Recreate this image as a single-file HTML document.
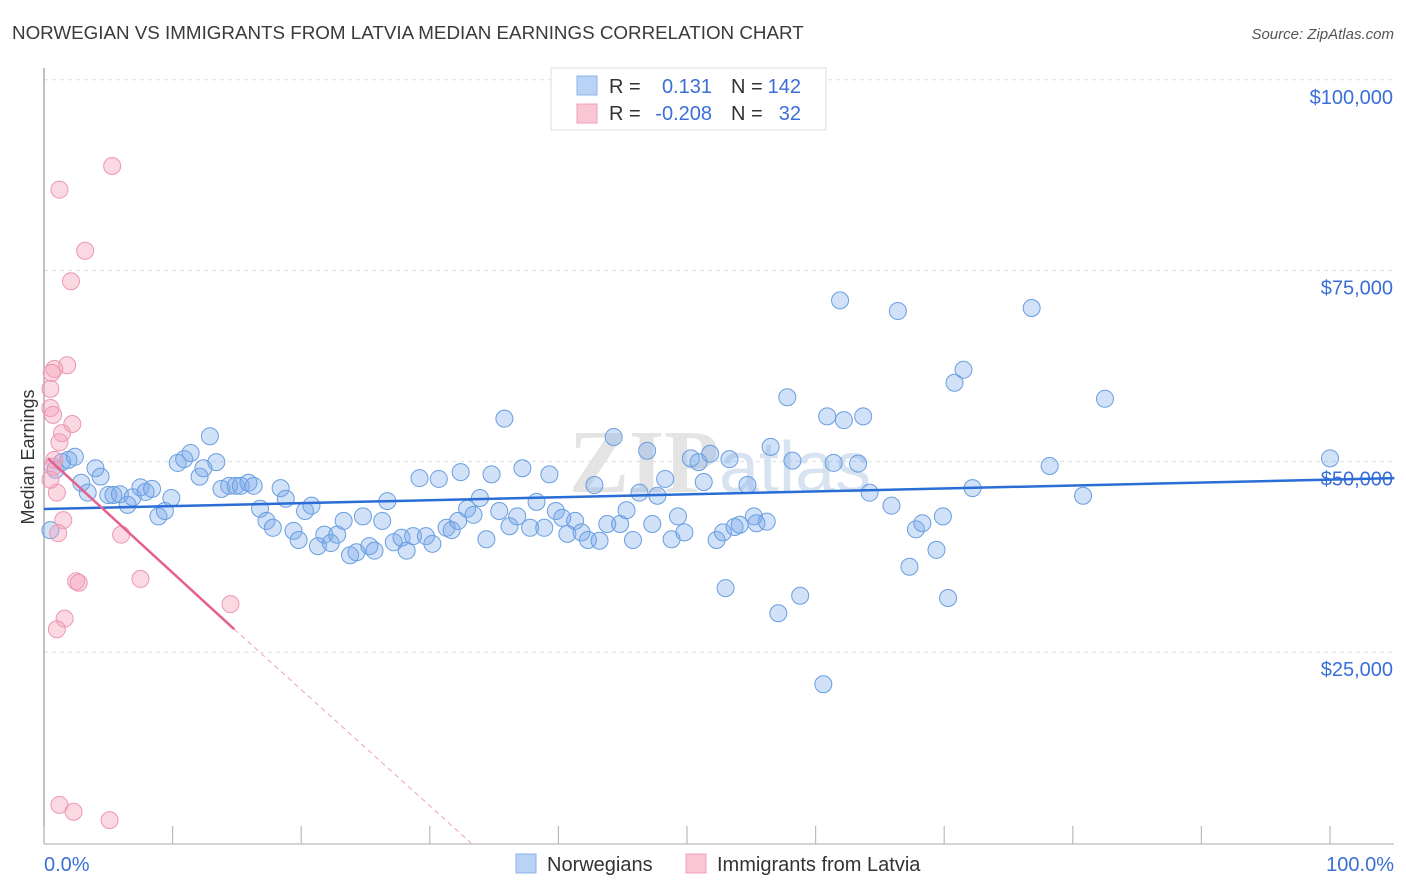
<!DOCTYPE html>
<html><head><meta charset="utf-8"><style>
body{margin:0;background:#fff;font-family:"Liberation Sans",sans-serif}
svg{display:block}
</style></head><body>
<svg id="chart" width="1406" height="892" xmlns="http://www.w3.org/2000/svg">
<text x="12" y="39" font-size="18.8" fill="#3a3a3a">NORWEGIAN VS IMMIGRANTS FROM LATVIA MEDIAN EARNINGS CORRELATION CHART</text>
<text x="1394" y="39" font-size="15" fill="#555" font-style="italic" text-anchor="end">Source: ZipAtlas.com</text>
<text x="720" y="492" font-size="90" fill="#e4e4e4" text-anchor="middle" font-family="Liberation Serif,serif" font-weight="bold">ZIP<tspan fill="#d8e3f2" font-family="Liberation Sans,sans-serif" font-weight="normal" font-size="72">atlas</tspan></text>
<g id="grid"></g>
<line x1="44" y1="68" x2="44" y2="844" stroke="#999" stroke-width="1.2"/>
<line x1="44" y1="844" x2="1394" y2="844" stroke="#bbb" stroke-width="1.2"/>
<g id="ticks"></g>
<text transform="translate(34,457) rotate(-90)" font-size="18" fill="#333" text-anchor="middle">Median Earnings</text>
<text x="44" y="871" font-size="20" fill="#3a6fd8">0.0%</text>
<text x="1394" y="871" font-size="20" fill="#3a6fd8" text-anchor="end">100.0%</text>
<g id="marks"></g>
<g>
<rect x="551" y="68" width="275" height="62" fill="#fff" stroke="#ddd"/>
<rect x="577" y="76" width="20" height="19" fill="#b9d3f7" stroke="#8fb1e6"/>
<rect x="577" y="104" width="20" height="19" fill="#f9c6d5" stroke="#eea0b8"/>
<text x="609" y="93" font-size="20" fill="#333">R =</text>
<text x="712" y="93" font-size="20" fill="#3a6fd8" text-anchor="end">0.131</text>
<text x="731" y="93" font-size="20" fill="#333">N =</text>
<text x="801" y="93" font-size="20" fill="#3a6fd8" text-anchor="end">142</text>
<text x="609" y="120" font-size="20" fill="#333">R =</text>
<text x="712" y="120" font-size="20" fill="#3a6fd8" text-anchor="end">-0.208</text>
<text x="731" y="120" font-size="20" fill="#333">N =</text>
<text x="801" y="120" font-size="20" fill="#3a6fd8" text-anchor="end">32</text>
</g>
<g>
<rect x="516" y="854" width="20" height="19" fill="#b9d3f7" stroke="#8fb1e6"/>
<text x="547" y="871" font-size="20" fill="#333">Norwegians</text>
</g>
<g>
<rect x="686" y="854" width="20" height="19" fill="#f9c6d5" stroke="#eea0b8"/>
<text x="717" y="871" font-size="20" fill="#333">Immigrants from Latvia</text>
</g>
</svg>
<script>
const yTicks=[25000,50000,75000,100000];
const yTickLabels=["$25,000","$50,000","$75,000","$100,000"];
const xTicks=[0,10,20,30,40,50,60,70,80,90,100];
const blueX=[0.5,0.9,1.4,1.9,2.4,2.9,3.4,4.0,4.4,5.0,5.4,5.9,6.5,6.9,7.5,7.9,8.4,8.9,9.4,9.9,10.4,10.9,11.4,12.1,12.4,12.9,13.4,13.8,14.4,14.9,15.3,15.9,16.3,16.8,17.3,17.8,18.4,18.8,19.4,19.8,20.3,20.8,21.3,21.8,22.3,22.8,23.3,23.8,24.3,24.8,25.3,25.7,26.3,26.7,27.2,27.8,28.2,28.7,29.2,29.7,30.2,30.7,31.3,31.7,32.2,32.4,32.9,33.4,33.9,34.4,34.8,35.4,35.8,36.2,36.8,37.2,37.8,38.3,38.9,39.3,39.8,40.3,40.7,41.3,41.8,42.3,42.8,43.2,43.8,44.3,44.8,45.3,45.8,46.3,46.9,47.3,47.7,48.3,48.8,49.3,49.8,50.3,50.9,51.3,51.8,52.3,52.8,53.0,53.3,53.7,54.1,54.7,55.2,55.4,56.2,56.5,57.1,57.8,58.2,58.8,60.6,60.9,61.4,61.9,62.2,63.3,63.7,64.2,65.9,66.4,67.3,67.8,68.3,69.4,69.9,70.3,70.8,71.5,72.2,76.8,78.2,80.8,82.5,100];
const blueY=[41.0,48.9,49.9,50.2,50.6,47.2,45.9,49.1,48.0,45.6,45.6,45.7,44.3,45.3,46.6,46.0,46.4,42.8,43.5,45.2,49.8,50.3,51.1,48.0,49.1,53.3,49.9,46.4,46.8,46.8,46.8,47.2,46.8,43.8,42.2,41.3,46.5,45.1,40.9,39.7,43.5,44.2,38.9,40.4,39.3,40.4,42.2,37.7,38.1,42.8,38.9,38.3,42.2,44.8,39.4,40.0,38.3,40.2,47.8,40.2,39.2,47.7,41.3,41.0,42.2,48.6,43.8,43.0,45.2,39.8,48.3,43.5,55.6,41.5,42.8,49.1,41.3,44.7,41.3,48.3,43.5,42.6,40.5,42.2,40.7,39.7,46.9,39.6,41.8,53.2,41.8,43.6,39.7,45.9,51.4,41.8,45.5,47.7,39.8,42.8,40.7,50.4,49.9,47.3,51.0,39.7,40.7,33.4,50.3,41.4,41.7,46.9,42.8,41.9,42.1,51.9,30.1,58.4,50.1,32.4,20.8,55.9,49.8,71.1,55.4,49.7,55.9,45.9,44.2,69.7,36.2,41.1,41.9,38.4,42.8,32.1,60.3,62.0,46.5,70.1,49.4,45.5,58.2,50.4];
const pinkX=[5.3,1.2,3.2,2.1,1.8,0.8,0.6,0.5,0.5,0.7,2.2,1.4,1.2,0.8,0.7,1.0,1.5,1.1,6.0,2.5,2.7,7.5,14.5,1.6,1.0,1.2,2.3,5.1,0.5];
const pinkY=[88.7,85.6,77.6,73.6,62.6,62.1,61.6,59.5,57.0,56.1,54.9,53.7,52.5,50.2,49.3,45.9,42.3,40.6,40.4,34.3,34.1,34.6,31.3,29.4,28.0,5.0,4.1,3.0,47.6];
const blueTrend=[[0,43.76],[105,47.8]];
const pinkTrend=[[0.3,50.4],[14.8,28.0]];
const pinkTrendExt=[[14.8,28.0],[33.2,0]];
const NS="http://www.w3.org/2000/svg";
const X=v=>44+v*12.86;
const Y=v=>843-v*0.0076322;
const Yk=v=>Y(v*1000);
function mk(tag,attrs,parent){const e=document.createElementNS(NS,tag);for(const k in attrs)e.setAttribute(k,attrs[k]);document.getElementById(parent).appendChild(e);return e;}
yTicks.forEach((t,i)=>{
 const l=mk('line',{x1:44,x2:1394,y1:Y(t),y2:Y(t),stroke:'#ddd','stroke-dasharray':'4,4'},'grid');
 
 
 const tx=mk('text',{x:1393,y:Y(t)+24,'font-size':20,fill:'#3a6fd8','text-anchor':'end'},'grid');
 tx.textContent=yTickLabels[i];
 
 
});
xTicks.forEach(t=>{
 const l=mk('line',{x1:X(t),x2:X(t),y1:826,y2:844,stroke:'#bbb','stroke-width':1.2},'ticks');
 
 
});
blueX.forEach((x,i)=>{
 const c=mk('circle',{cx:X(x),cy:Yk(blueY[i]),r:8.5,fill:'rgba(120,170,235,0.35)',stroke:'#6a9ee0','stroke-width':1},'marks');
 
 
});
pinkX.forEach((x,i)=>{
 const c=mk('circle',{cx:X(x),cy:Yk(pinkY[i]),r:8.5,fill:'rgba(245,160,185,0.4)',stroke:'#ec97b2','stroke-width':1},'marks');
 
 
});
const bt=mk('line',{x1:X(blueTrend[0][0]),y1:Yk(blueTrend[0][1]),x2:X(blueTrend[1][0]),y2:Yk(blueTrend[1][1]),stroke:'#2a6dd6','stroke-width':2.5},'marks');


const pt=mk('line',{x1:X(pinkTrend[0][0]),y1:Yk(pinkTrend[0][1]),x2:X(pinkTrend[1][0]),y2:Yk(pinkTrend[1][1]),stroke:'#e5608e','stroke-width':2.5},'marks');


const pe=mk('line',{x1:X(pinkTrendExt[0][0]),y1:Yk(pinkTrendExt[0][1]),x2:X(pinkTrendExt[1][0]),y2:Yk(pinkTrendExt[1][1]),stroke:'#eea0b8','stroke-width':1,'stroke-dasharray':'5,4'},'marks');


</script>
</body></html>
